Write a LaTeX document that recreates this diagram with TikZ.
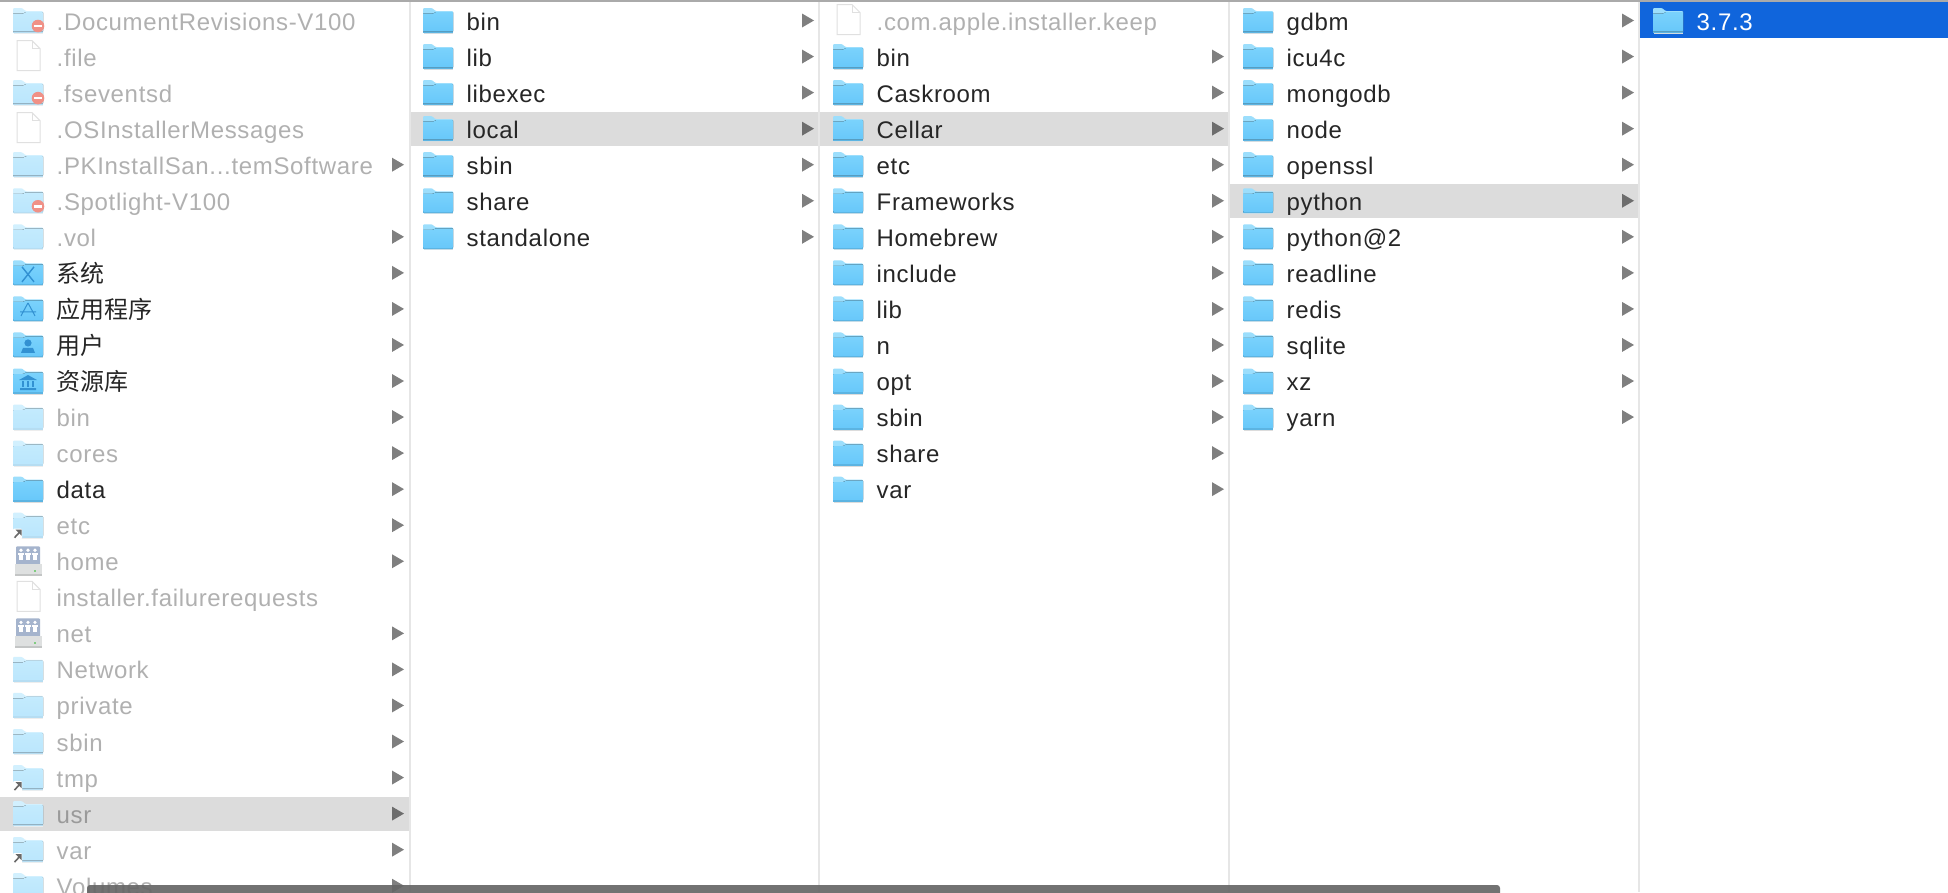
\documentclass[tikz,border=0pt]{standalone}
\usepackage{fontspec}
\usepackage{tikz}
\setmainfont[LetterSpace=2.8]{Liberation Sans}
\newfontfamily\cjk{Noto Sans CJK SC}
\definecolor{rowgrey}{RGB}{220, 220, 220}
\definecolor{rulegrey}{RGB}{230, 230, 230}
\definecolor{topgrey}{RGB}{170, 170, 170}
\definecolor{selblue}{RGB}{16, 101, 220}
\definecolor{foldertop}{RGB}{122, 210, 252}
\definecolor{folderbot}{RGB}{104, 200, 250}
\definecolor{foldertab}{RGB}{156, 222, 252}
\definecolor{folderedge}{RGB}{92, 180, 226}
\definecolor{shadegrey}{RGB}{220, 220, 220}
\definecolor{glyphblue}{RGB}{50, 145, 210}
\definecolor{stopred}{RGB}{240, 145, 135}
\definecolor{aliasgrey}{RGB}{105, 105, 105}
\definecolor{diskblue}{RGB}{165, 180, 205}
\definecolor{diskgrey}{RGB}{222, 224, 224}
\definecolor{diskedge}{RGB}{195, 197, 197}
\definecolor{inkdark}{RGB}{38, 38, 38}
\newcommand{\pkname}{.PKInstallSan...temSoftware}

% One row of a column: x of column, row number, kind of icon, label, dim or not
\newcommand{\finderrow}[5]{
    \pgfmathsetmacro{\rowy}{20.5+36.05*#2}
    \begin{scope}[shift={(#1,\rowy)}]
        \pic[#5 icon] at (13,0) {#3};
        \node[row label, #5 text] (c#1-r#2) at (56.5,9.5) {#4};
        \ifnum\strcmp{#3}{file}=0 \else\ifnum\strcmp{#3}{stop}=0 \else
            \fill[row arrow] (392,-7) -- (404,0) -- (392,7) -- cycle;
        \fi\fi
    \end{scope}
}

\begin{document}
\begin{tikzpicture}[
    x=1pt, y=-1pt,
    row label/.style={anchor=base west, inner sep=0pt, font=\fontsize{24}{28}\selectfont, text=inkdark},
    dim text/.style={text opacity=0.36},
    on text/.style={},
    % Washed out folders: colours mixed with white, so that overlaps stay flat
    dim icon/.code={
        \colorlet{foldertop}{foldertop!45!white}
        \colorlet{folderbot}{folderbot!45!white}
        \colorlet{foldertab}{foldertab!45!white}
        \colorlet{folderedge}{folderedge!45!white}
        \colorlet{shadegrey}{shadegrey!50!white}
    },
    on icon/.style={},
    row arrow/.style={fill=black, opacity=0.5},
    folder/.pic={
        \fill[shadegrey] (0.5,12) rectangle (29.5,13.5);
        \fill[foldertab, rounded corners=1pt] (0,-12.5) -- (9,-12.5) -- (12.5,-9.5) -- (30,-9.5) -- (30,12.5) -- (0,12.5) -- cycle;
        \fill[top color=foldertop, bottom color=folderbot, rounded corners=0.5pt] (0,-7) -- (10,-7) -- (13,-8.5) -- (30,-8.5) -- (30,11) -- (0,11) -- cycle;
        \fill[folderedge] (0,11) rectangle (30,12.5);
    },
    stop/.pic={
        \pic {folder};
        \fill[stopred] (25,5.5) circle (6.3);
        \fill[white] (21,4.2) rectangle (29,6.8);
    },
    alias/.pic={
        \pic {folder};
        \fill[white, rounded corners=1pt] (0,3.5) rectangle (9,14);
        \draw[aliasgrey, line width=1.6pt] (1.5,12.5) -- (7,6.5);
        \fill[aliasgrey] (2.5,4.5) -- (8.5,4.5) -- (8.5,10.5) -- cycle;
    },
    file/.pic={
        \draw[black!12, fill=white, line width=1pt] (4,-16) -- (19,-16) -- (27,-8) -- (27,14) -- (4,14) -- cycle;
        \draw[black!12, line width=1pt] (19,-16) -- (19,-8) -- (27,-8);
    },
    disk/.pic={
        \fill[diskblue, rounded corners=1pt] (3,-15) rectangle (27,4);
        \fill[diskgrey] (1.7,3) rectangle (28.7,13);
        \fill[diskedge] (1.7,13) rectangle (28.7,14.5);
        \fill[green!60!black!50] (21,9) rectangle (23,10.5);
        \foreach \px in {8,15,22} {
            \fill[white] (\px,-11) circle (1.8);
            \fill[white] (\px-3,-8.5) rectangle (\px+3,-6);
            \fill[white] (\px-2,-6) rectangle (\px+2,-1);
        }
    },
    sysfolder/.pic={
        \pic {folder};
        \draw[glyphblue, line width=1.4pt] (9,-6) -- (21,9) (21,-6) -- (9,9);
    },
    appfolder/.pic={
        \pic {folder};
        \draw[glyphblue, line width=1pt] (15,-6) -- (8,7) (15,-6) -- (22,7) (7,3) -- (23,3);
    },
    userfolder/.pic={
        \pic {folder};
        \fill[glyphblue] (15,-2) circle (3.6) (8,8) -- (10,3) -- (20,3) -- (22,8) -- cycle;
    },
    libfolder/.pic={
        \pic {folder};
        \fill[glyphblue] (15,-6) -- (24,-1) -- (6,-1) -- cycle (7,7) rectangle (23,9);
        \foreach \px in {9,14,19} {
            \fill[glyphblue] (\px,0) rectangle (\px+2,6);
        }
    }
]
    \useasboundingbox (0,0) rectangle (1948,892);
    \clip (0,0) rectangle (1948,892);
    \fill[white] (0,0) rectangle (1948,892);

    % Selected rows
    \fill[rowgrey] (0,797) rectangle (408.5,830.5);
    \fill[rowgrey] (410,112) rectangle (818,146);
    \fill[rowgrey] (820,112) rectangle (1228,146);
    \fill[rowgrey] (1230,184) rectangle (1638,218);
    \fill[selblue] (1640,2) rectangle (1948,38);

    % Column rules
    \foreach \rulex in {408.5,818,1228,1638} {
        \fill[rulegrey] (\rulex,0) rectangle (\rulex+2,892);
    }
    \fill[topgrey] (0,0) rectangle (1948,2);

    % Column 1
    \foreach \name/\kind/\look [count=\i from 0] in {
        .DocumentRevisions-V100/stop/dim, .file/file/dim, .fseventsd/stop/dim,
        .OSInstallerMessages/file/dim, \pkname/folder/dim,
        .Spotlight-V100/stop/dim, .vol/folder/dim, {\cjk 系统}/sysfolder/on,
        {\cjk 应用程序}/appfolder/on, {\cjk 用户}/userfolder/on, {\cjk 资源库}/libfolder/on,
        bin/folder/dim, cores/folder/dim, data/folder/on, etc/alias/dim, home/disk/dim,
        installer.failurerequests/file/dim, net/disk/dim, Network/folder/dim,
        private/folder/dim, sbin/folder/dim, tmp/alias/dim, usr/folder/dim,
        var/alias/dim, Volumes/folder/dim} {
        \finderrow{0}{\i}{\kind}{\name}{\look}
    }

    % Column 2
    \foreach \name [count=\i from 0] in {bin, lib, libexec, local, sbin, share, standalone} {
        \finderrow{410}{\i}{folder}{\name}{on}
    }

    % Column 3
    \finderrow{820}{0}{file}{.com.apple.installer.keep}{dim}
    \foreach \name [count=\i from 1] in {bin, Caskroom, Cellar, etc, Frameworks, Homebrew,
        include, lib, n, opt, sbin, share, var} {
        \finderrow{820}{\i}{folder}{\name}{on}
    }

    % Column 4
    \foreach \name [count=\i from 0] in {gdbm, icu4c, mongodb, node, openssl, python,
        python@2, readline, redis, sqlite, xz, yarn} {
        \finderrow{1230}{\i}{folder}{\name}{on}
    }

    % Column 5
    \pic at (1653,20.5) {folder};
    \node[row label, text=white] (c1640-r0) at (1696.5,30) {3.7.3};

    % Scroll bar
    \fill[black!60, opacity=0.92, rounded corners=3pt] (87,885) rectangle (1500,900);
\end{tikzpicture}
\end{document}
